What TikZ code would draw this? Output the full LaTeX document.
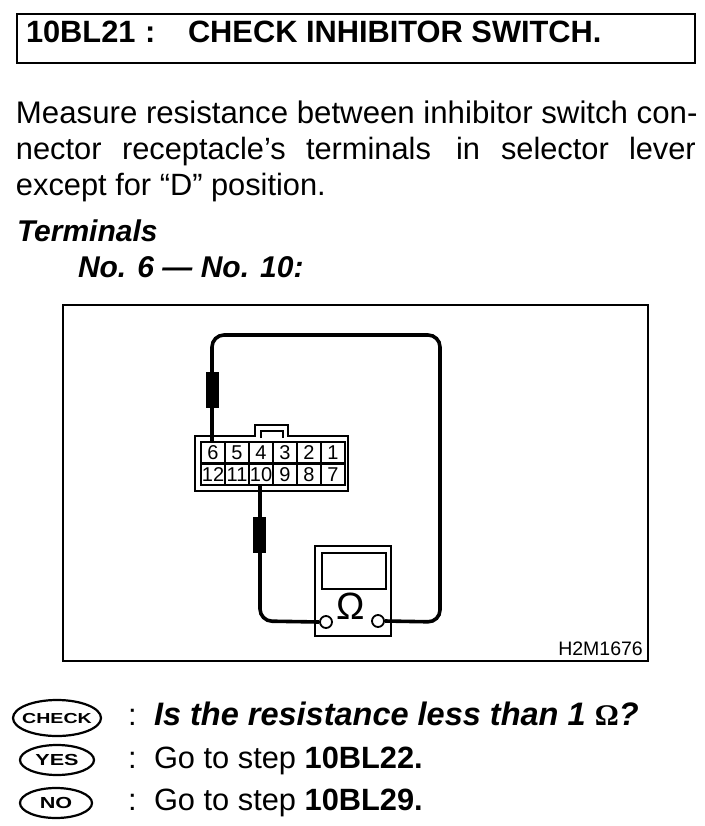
\documentclass[tikz,border=0pt]{standalone}
\usepackage{fontspec}
\setmainfont{Liberation Sans}
\newfontfamily\wide[FakeStretch=1.35]{Liberation Sans}
\newfontfamily\symfont{Liberation Serif}
\usetikzlibrary{shapes.geometric,calc}
\tikzset{
  txt/.style={anchor=base west,inner sep=0pt,outer sep=0pt,font=\fontsize{30.8}{32}\selectfont},
  titletxt/.style={txt,font=\fontsize{30.8}{32}\selectfont\bfseries},
  boldit/.style={txt,font=\fontsize{30}{32}\selectfont\bfseries\itshape},
  cell/.style={draw,line width=2pt,minimum width=24pt,minimum height=21pt,inner sep=0pt,font=\fontsize{20}{20}\selectfont},
  wire/.style={line width=3.6pt,rounded corners=12pt},
  barrel/.style={fill=black,draw=none,minimum width=13pt,minimum height=36pt,inner sep=0pt},
  badge/.style={draw,ellipse,line width=2.2pt,inner sep=0pt,font=\wide\fontsize{14.5}{16}\selectfont\bfseries},
  term/.style={draw,circle,fill=white,line width=1.8pt,minimum size=12pt,inner sep=0pt},
}
\begin{document}
\begin{tikzpicture}[x=1pt,y=-1pt]
\useasboundingbox[fill=white] (0,0) rectangle (704,826);
\draw[line width=2pt] (17,14) rectangle (695,63);
\node[titletxt] (title) at (26,43) {10BL21};
\node[titletxt] (titlec) at (145,43) {:};
\node[titletxt] (title2) at (188,43) {CHECK INHIBITOR SWITCH.};
\node[txt,font=\fontsize{31.2}{32}\selectfont] (l1) at (16,124) {Measure resistance between inhibitor switch con-};
\node[txt] (l2a) at (16,160) {nector};
\node[txt] (l2b) at (122,160) {receptacle's};
\node[txt] (l2c) at (306,160) {terminals};
\node[txt] (l2d) at (456,160) {in};
\node[txt] (l2e) at (501,160) {selector};
\node[txt] (l2f) at (629,160) {lever};
\node[txt] (l3) at (16,196) {except for “D” position.};
\node[boldit] (t1) at (17,241) {Terminals};
\node[boldit] (t2) at (78,277) {No. 6 — No. 10:};
% frame
\draw[line width=1.8pt] (63,305) rectangle (648,661);
\node[anchor=base east,inner sep=0pt,font=\fontsize{19.5}{20}\selectfont] (code) at (643,655) {H2M1676};
% connector housing
\draw[line width=2.4pt] (195,436) -- (255,436) -- (255,425) -- (288,425) -- (288,436) -- (348,436) -- (348,491) -- (195,491) -- cycle;
\draw[line width=1.4pt] (261,438) -- (261,431) -- (283,431) -- (283,438);
\foreach \n/\t [count=\i from 0] in {a/6,b/5,c/4,d/3,e/2,f/1}
  \node[cell,anchor=north west] (c\n) at ({200+24*\i},441) {\t};
\foreach \n/\t [count=\i from 0] in {a/12,b/11,c/10,d/9,e/8,f/7}
  \node[cell,anchor=north west] (r\n) at ({200+24*\i},463) {\t};
% meter
\node[draw,line width=2pt,minimum width=76pt,minimum height=90pt,inner sep=0pt,anchor=north west] (meter) at (314,545) {};
\node[draw,line width=2pt,minimum width=64pt,minimum height=36pt,inner sep=0pt,anchor=north west] (display) at (321,552) {};
\node[font=\fontsize{38}{40}\selectfont,inner sep=0pt] (ohm) at (351,606) {Ω};
\node[term] (tl) at (326,622) {};
\node[term] (tr) at (378,621) {};
% wires
\draw[wire] (212,441) -- (212,335) -- (440,335) -- (440,622) -- (tr.east);
\draw[wire] (260,485) -- (260,621) -- (tl.west);
\node[barrel] (b1) at (212,390) {};
\node[barrel] (b2) at (259.5,535) {};
% bottom
\node[badge,minimum width=88pt,minimum height=36pt] (check) at (57,718) {\makebox[0pt]{CHECK}};
\node[badge,minimum width=74pt,minimum height=30pt,font=\wide\fontsize{16}{18}\selectfont\bfseries] (yes) at (57,760) {\makebox[0pt]{YES}};
\node[badge,minimum width=72pt,minimum height=30pt,font=\wide\fontsize{16}{18}\selectfont\bfseries] (no) at (56,803) {\makebox[0pt]{NO}};
\node[txt] (cc) at (128,725) {:};
\node[boldit,font=\fontsize{32.5}{32}\selectfont\bfseries\itshape] (q) at (154,725) {Is the resistance less than 1 {\symfont\fontsize{30}{30}\selectfont\upshape Ω}?};
\node[txt] (yc) at (128,768) {:};
\node[txt] (y) at (154,768) {Go to step \textbf{10BL22.}};
\node[txt] (nc) at (128,810) {:};
\node[txt] (n) at (154,810) {Go to step \textbf{10BL29.}};
\end{tikzpicture}
\end{document}
